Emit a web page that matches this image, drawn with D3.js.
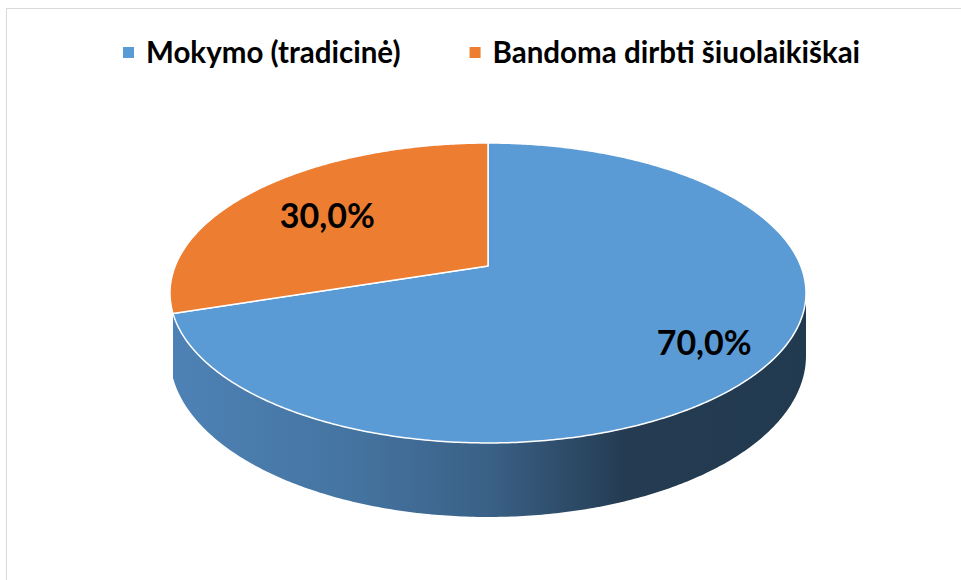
<!DOCTYPE html>
<html>
<head>
<meta charset="utf-8">
<script src="https://cdn.jsdelivr.net/npm/d3@7"></script>
<style>
  body { margin: 0; background: #fff; }
  text { font-family: Lato, "Open Sans", sans-serif; font-weight: bold; }
</style>
</head>
<body>
<div id="chart"></div>
<script>
// data
const categories = ["Mokymo (tradicinė)", "Bandoma dirbti šiuolaikiškai"]
const values = [70, 30]
const valueLabels = ["70,0%", "30,0%"]
const colors = ["#5b9bd5", "#ed7d31"]

const WIDTH = 961
const HEIGHT = 580

// perspective of the tilted pie
const CX = 488, CY = 266     // pie centre on screen
const RX = 312.8, RY = 145.1 // radii before perspective
const P = -0.18              // perspective strength
const DEPTH = 60.7           // thickness of the slab

const svg = d3.select("#chart").append("svg")
  .attr("width", WIDTH)
  .attr("height", HEIGHT)

// frame (only top and left edge are inside the picture)
svg.append("rect")
  .attr("x", 6.5).attr("y", 8.5)
  .attr("width", 1200).attr("height", 1200)
  .attr("fill", "none")
  .attr("stroke", "#d9d9d9")

// side shading, light on the left, dark on the right
const grad = svg.append("defs").append("linearGradient")
  .attr("id", "side")
  .attr("gradientUnits", "userSpaceOnUse")
  .attr("x1", CX - RX * 1.02).attr("x2", CX + RX * 1.02)
  .attr("y1", 0).attr("y2", 0)
grad.selectAll("stop")
  .data([[0, "#4e82b6"], [0.3, "#44739f"], [0.5, "#3a6187"], [0.72, "#243b51"], [1, "#223a4f"]])
  .enter().append("stop")
  .attr("offset", d => d[0])
  .attr("stop-color", d => d[1])

// angle clockwise from 12 o'clock -> screen point
function project(theta, r) {
  const u = r * Math.sin(theta)
  const v = -r * Math.cos(theta)
  const d = 1 + P * v
  return [CX + RX * u / d, CY + RY * v / d, v]
}
function dropOf(v) { return DEPTH / (1 + P * v) }

function sample(a0, a1) {
  const n = Math.max(2, Math.ceil(Math.abs(a1 - a0) / 0.01))
  return d3.range(n + 1).map(i => a0 + (a1 - a0) * i / n)
}

const pie = d3.pie().sort(null).startAngle(0).endAngle(2 * Math.PI)
const arcs = pie(values)

// visible front part of the rim
const visFrom = Math.acos(P)
const visTo = 2 * Math.PI - Math.acos(P)

const line = d3.line()

const sides = svg.append("g")
arcs.forEach((a, i) => {
  const s = Math.max(a.startAngle, visFrom)
  const e = Math.min(a.endAngle, visTo)
  if (e - s < 0.3) return   // slivers hidden behind the top face
  const top = sample(s, e).map(t => project(t, 1))
  const bottom = top.slice().reverse().map(p => [p[0], p[1] + dropOf(p[2])])
  sides.append("path")
    .attr("d", line(top.map(p => [p[0], p[1]]).concat(bottom)) + "Z")
    .attr("fill", "url(#side)")
})

// top faces
const tops = svg.append("g")
arcs.forEach((a, i) => {
  const pts = [[CX, CY]].concat(sample(a.startAngle, a.endAngle).map(t => project(t, 1)).map(p => [p[0], p[1]]))
  tops.append("path")
    .attr("d", line(pts) + "Z")
    .attr("fill", colors[i])
    .attr("stroke", "#fff")
    .attr("stroke-width", 1.5)
    .attr("stroke-linejoin", "round")
})

// data labels
arcs.forEach((a, i) => {
  const p = project((a.startAngle + a.endAngle) / 2, 0.74)
  svg.append("text")
    .attr("x", p[0] + 13)
    .attr("y", p[1] + 8)
    .attr("dy", "0.36em")
    .attr("text-anchor", "middle")
    .attr("font-size", "34px")
    .attr("fill", "#000")
    .text(valueLabels[i])
})

// legend
const legend = svg.append("g")
let lx = 123
categories.forEach((c, i) => {
  legend.append("rect")
    .attr("x", lx).attr("y", 47)
    .attr("width", 11).attr("height", 11)
    .attr("fill", colors[i])
  const t = legend.append("text")
    .attr("x", lx + 23).attr("y", 63)
    .attr("font-size", "29.5px")
    .attr("fill", "#000")
    .text(c)
  lx += 23 + t.node().getComputedTextLength() + 69
})
</script>
</body>
</html>
